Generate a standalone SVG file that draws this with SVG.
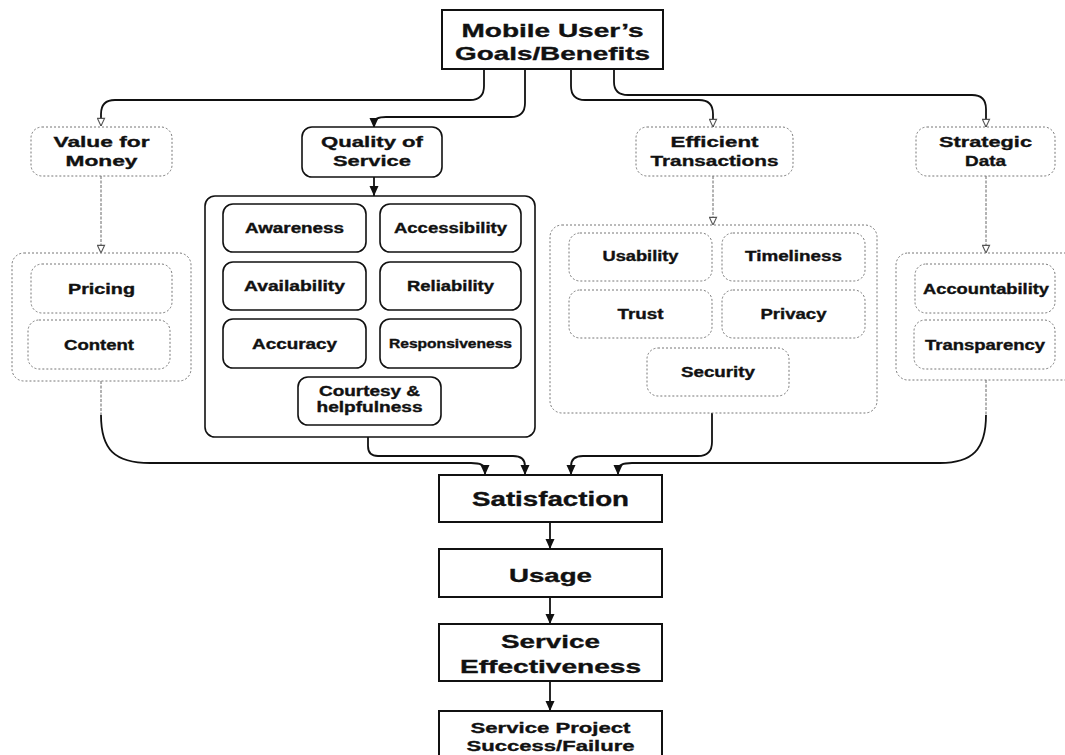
<svg xmlns="http://www.w3.org/2000/svg" width="1065" height="755" viewBox="0 0 1065 755">
<style>
text{font-family:"Liberation Sans",Arial,sans-serif;font-weight:bold;fill:#111;stroke:#111;stroke-width:0.35;text-anchor:middle}
.solid{fill:#fff;stroke:#111;stroke-width:1.6}
.sq{fill:#fff;stroke:#111;stroke-width:2}
.dash{fill:#fff;stroke:#777;stroke-width:1;stroke-dasharray:2 2}
.c{fill:none;stroke:#111;stroke-width:1.8}
.cd{fill:none;stroke:#666;stroke-width:1;stroke-dasharray:3 1.5}
.t19{font-size:19px}.t15{font-size:15.5px}.t14{font-size:14px}.t12{font-size:12px}.t20{font-size:20px}
</style>
<defs>
<marker id="af" viewBox="0 0 10 10" refX="10" refY="5" markerWidth="10" markerHeight="10" markerUnits="userSpaceOnUse" orient="auto"><path d="M0,0.5 L10,5 L0,9.5 z" fill="#111"/></marker>
<marker id="ah" viewBox="0 0 10 10" refX="9.5" refY="5" markerWidth="9" markerHeight="9" markerUnits="userSpaceOnUse" orient="auto"><path d="M1,1 L9.5,5 L1,9 z" fill="#fff" stroke="#555" stroke-width="1.2"/></marker>
</defs>

<g id="connectors">
<path class="c" d="M484,69 V86 Q484,100 470,100 H115 Q101,100 101,114 V126" marker-end="url(#ah)"/>
<path class="c" d="M525,69 V103 Q525,117 511,117 H386 Q374,117 374,123 V128" marker-end="url(#af)"/>
<path class="c" d="M571,69 V86 Q571,100 585,100 H699 Q713,100 713,114 V127" marker-end="url(#ah)"/>
<path class="c" d="M614,69 V82 Q614,95 628,95 H972 Q986,95 986,109 V127" marker-end="url(#ah)"/>
<path class="cd" d="M101,176 V253" marker-end="url(#ah)"/>
<path class="c" d="M374,177 V196" marker-end="url(#af)"/>
<path class="cd" d="M713,176 V225" marker-end="url(#ah)"/>
<path class="cd" d="M986,176 V253" marker-end="url(#ah)"/>
<path class="cd" d="M101,381 V415"/>
<path class="c" d="M101,415 C101,450 115,463 150,463 H471 Q485,463 485,470 V475" marker-end="url(#af)"/>
<path class="c" d="M368,437 V446 Q368,456 378,456 H513 Q525,456 525,466 V475" marker-end="url(#af)"/>
<path class="c" d="M712,413 V442 Q712,456 698,456 H583 Q571,456 571,466 V475" marker-end="url(#af)"/>
<path class="cd" d="M986,380 V415"/>
<path class="c" d="M986,415 C986,450 972,463 940,463 H632 Q618,463 618,470 V475" marker-end="url(#af)"/>
<path class="c" d="M550,522 V549" marker-end="url(#af)"/>
<path class="c" d="M550,597 V624" marker-end="url(#af)"/>
<path class="c" d="M550,681 V711" marker-end="url(#af)"/>
</g>

<g id="goals">
<rect class="sq" x="442" y="10" width="221" height="59"/>
<text class="t19" x="552.5" y="37" textLength="182" lengthAdjust="spacingAndGlyphs">Mobile User’s</text>
<text class="t19" x="552.5" y="60" textLength="195" lengthAdjust="spacingAndGlyphs">Goals/Benefits</text>
</g>

<g id="value-for-money">
<rect class="dash" x="31" y="127" width="141" height="49" rx="11"/>
<text class="t15" x="101.5" y="147" textLength="96" lengthAdjust="spacingAndGlyphs">Value for</text>
<text class="t15" x="101.5" y="166" textLength="72" lengthAdjust="spacingAndGlyphs">Money</text>
</g>
<g id="quality-of-service">
<rect class="solid" x="302" y="127" width="140" height="50" rx="10"/>
<text class="t15" x="372" y="147" textLength="102" lengthAdjust="spacingAndGlyphs">Quality of</text>
<text class="t15" x="372" y="166" textLength="78" lengthAdjust="spacingAndGlyphs">Service</text>
</g>
<g id="efficient-transactions">
<rect class="dash" x="636" y="127" width="157" height="49" rx="11"/>
<text class="t15" x="714.5" y="147" textLength="88" lengthAdjust="spacingAndGlyphs">Efficient</text>
<text class="t15" x="714.5" y="166" textLength="128" lengthAdjust="spacingAndGlyphs">Transactions</text>
</g>
<g id="strategic-data">
<rect class="dash" x="916" y="127" width="139" height="49" rx="11"/>
<text class="t15" x="985.5" y="147" textLength="93" lengthAdjust="spacingAndGlyphs">Strategic</text>
<text class="t15" x="985.5" y="166" textLength="41" lengthAdjust="spacingAndGlyphs">Data</text>
</g>

<g id="vfm-group">
<rect class="dash" x="12" y="253" width="179" height="128" rx="12"/>
<g id="pricing"><rect class="dash" x="31" y="264" width="141" height="49" rx="11"/>
<text class="t14" x="101.5" y="293.5" textLength="67" lengthAdjust="spacingAndGlyphs">Pricing</text></g>
<g id="content"><rect class="dash" x="28" y="320" width="142" height="49" rx="11"/>
<text class="t14" x="99" y="349.5" textLength="70" lengthAdjust="spacingAndGlyphs">Content</text></g>
</g>

<g id="qos-group">
<rect class="solid" x="205" y="196" width="330" height="241" rx="10"/>
<g id="awareness"><rect class="solid" x="223" y="204" width="143" height="48" rx="10"/>
<text class="t14" x="294.5" y="233" textLength="99" lengthAdjust="spacingAndGlyphs">Awareness</text></g>
<g id="accessibility"><rect class="solid" x="380" y="204" width="141" height="48" rx="10"/>
<text class="t14" x="450.5" y="233" textLength="113" lengthAdjust="spacingAndGlyphs">Accessibility</text></g>
<g id="availability"><rect class="solid" x="223" y="262" width="143" height="48" rx="10"/>
<text class="t14" x="294.5" y="291" textLength="101" lengthAdjust="spacingAndGlyphs">Availability</text></g>
<g id="reliability"><rect class="solid" x="380" y="262" width="141" height="48" rx="10"/>
<text class="t14" x="450.5" y="291" textLength="87" lengthAdjust="spacingAndGlyphs">Reliability</text></g>
<g id="accuracy"><rect class="solid" x="223" y="319" width="143" height="49" rx="10"/>
<text class="t14" x="294.5" y="348.5" textLength="85" lengthAdjust="spacingAndGlyphs">Accuracy</text></g>
<g id="responsiveness"><rect class="solid" x="380" y="319" width="141" height="49" rx="10"/>
<text class="t12" x="450.5" y="348" textLength="123" lengthAdjust="spacingAndGlyphs">Responsiveness</text></g>
<g id="courtesy"><rect class="solid" x="298" y="377" width="143" height="48" rx="10"/>
<text class="t14" x="369.5" y="396" textLength="101" lengthAdjust="spacingAndGlyphs">Courtesy &amp;</text>
<text class="t14" x="369.5" y="412" textLength="106" lengthAdjust="spacingAndGlyphs">helpfulness</text></g>
</g>

<g id="eff-group">
<rect class="dash" x="550" y="225" width="327" height="188" rx="12"/>
<g id="usability"><rect class="dash" x="569" y="233" width="143" height="48" rx="11"/>
<text class="t14" x="640.5" y="261" textLength="76" lengthAdjust="spacingAndGlyphs">Usability</text></g>
<g id="timeliness"><rect class="dash" x="722" y="233" width="143" height="48" rx="11"/>
<text class="t14" x="793.5" y="261" textLength="97" lengthAdjust="spacingAndGlyphs">Timeliness</text></g>
<g id="trust"><rect class="dash" x="569" y="290" width="143" height="48" rx="11"/>
<text class="t14" x="640.5" y="318.5" textLength="46" lengthAdjust="spacingAndGlyphs">Trust</text></g>
<g id="privacy"><rect class="dash" x="722" y="290" width="143" height="48" rx="11"/>
<text class="t14" x="793.5" y="318.5" textLength="66" lengthAdjust="spacingAndGlyphs">Privacy</text></g>
<g id="security"><rect class="dash" x="647" y="348" width="142" height="48" rx="11"/>
<text class="t14" x="718" y="376.5" textLength="74" lengthAdjust="spacingAndGlyphs">Security</text></g>
</g>

<g id="strat-group">
<rect class="dash" x="896" y="253" width="185" height="127" rx="12"/>
<g id="accountability"><rect class="dash" x="915" y="264" width="140" height="49" rx="11"/>
<text class="t14" x="986" y="293.5" textLength="126" lengthAdjust="spacingAndGlyphs">Accountability</text></g>
<g id="transparency"><rect class="dash" x="914" y="320" width="141" height="49" rx="11"/>
<text class="t14" x="985" y="349.5" textLength="120" lengthAdjust="spacingAndGlyphs">Transparency</text></g>
</g>

<g id="satisfaction">
<rect class="sq" x="439" y="475" width="223" height="47"/>
<text class="t20" x="550.5" y="505.5" textLength="157" lengthAdjust="spacingAndGlyphs">Satisfaction</text>
</g>
<g id="usage">
<rect class="sq" x="439" y="549" width="223" height="48"/>
<text class="t19" x="550.5" y="582" textLength="83" lengthAdjust="spacingAndGlyphs">Usage</text>
</g>
<g id="service-effectiveness">
<rect class="sq" x="439" y="624" width="223" height="57"/>
<text class="t19" x="550.5" y="648" textLength="99" lengthAdjust="spacingAndGlyphs">Service</text>
<text class="t19" x="550.5" y="673" textLength="181" lengthAdjust="spacingAndGlyphs">Effectiveness</text>
</g>
<g id="service-project">
<rect class="sq" x="439" y="711" width="223" height="60"/>
<text class="t15" x="550.5" y="733" textLength="160" lengthAdjust="spacingAndGlyphs">Service Project</text>
<text class="t15" x="550.5" y="751" textLength="168" lengthAdjust="spacingAndGlyphs">Success/Failure</text>
</g>
</svg>
